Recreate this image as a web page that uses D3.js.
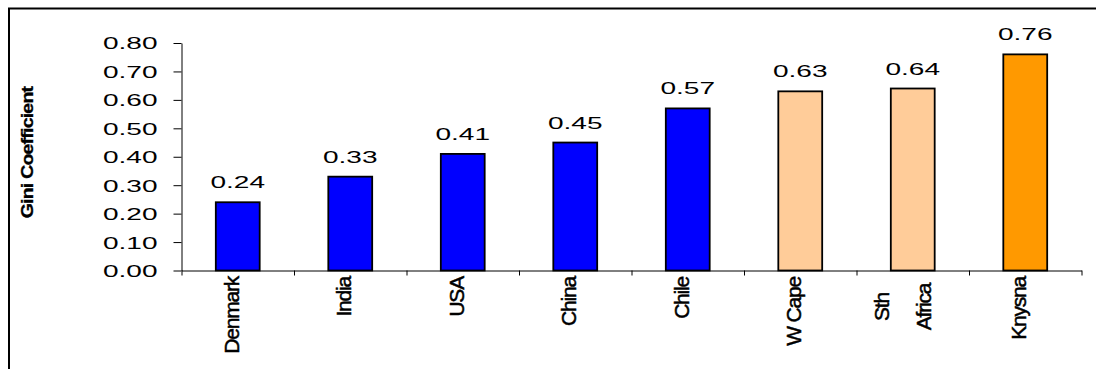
<!DOCTYPE html>
<html>
<head>
<meta charset="utf-8">
<script src="https://cdn.jsdelivr.net/npm/d3@7"></script>
<style>
  html, body { margin: 0; padding: 0; background: #fff; }
  svg { display: block; }
  text { font-family: "Liberation Sans", Arial, sans-serif; fill: #000; }
</style>
</head>
<body>
<svg id="chart" width="1096" height="369"></svg>
<script>
// Gini coefficients by country / region
const categories = ["Denmark", "India", "USA", "China", "Chile", "W Cape", "Sth Africa", "Knysna"];
const categoryLines = [["Denmark"], ["India"], ["USA"], ["China"], ["Chile"], ["W Cape"], ["Sth", "Africa"], ["Knysna"]];
const giniValues = [0.24, 0.33, 0.41, 0.45, 0.57, 0.63, 0.64, 0.76];
const groups = ["world", "world", "world", "world", "world", "region", "region", "local"];
const yTicks = [0, 0.1, 0.2, 0.3, 0.4, 0.5, 0.6, 0.7, 0.8];
const yTitle = "Gini Coefficient";

const groupColor = { world: "#0000FF", region: "#FFCC99", local: "#FF9900" };

const svg = d3.select("#chart");

// Chart frame
svg.append("rect")
  .attr("x", 9).attr("y", 8.5)
  .attr("width", 1200).attr("height", 400)
  .attr("fill", "none").attr("stroke", "#000").attr("stroke-width", 2);

const plot = { left: 181.5, right: 1081.5, top: 43, bottom: 270.5 };

const x = d3.scaleBand()
  .domain(categories)
  .range([plot.left, plot.right])
  .paddingInner(0.61)
  .paddingOuter(0.305);

const xEdge = d3.scaleLinear()
  .domain([0, categories.length])
  .range([plot.left, plot.right]);

const y = d3.scaleLinear()
  .domain([0, 0.8])
  .range([plot.bottom, plot.top]);

const numSX = 1.7;   // wide numeric glyphs
const fmt = d3.format(".2f");

// Y axis
const yAxis = svg.append("g")
  .attr("transform", `translate(${plot.left},0)`)
  .call(d3.axisLeft(y).tickValues(yTicks).tickSize(8).tickSizeOuter(0).tickFormat(fmt));
yAxis.select(".domain").attr("stroke", "#000");
yAxis.selectAll(".tick line").attr("stroke", "#000");
yAxis.selectAll(".tick text")
  .attr("font-family", "Liberation Sans, Arial, sans-serif")
  .attr("font-size", 16.5)
  .attr("fill", "#000")
  .attr("x", -24 / numSX)
  .attr("dy", "0.36em")
  .attr("transform", `scale(${numSX},1)`);

// X axis (ticks between categories)
const xAxis = svg.append("g")
  .attr("transform", `translate(0,${plot.bottom})`)
  .call(d3.axisBottom(xEdge).tickValues(d3.range(categories.length + 1)).tickSize(5).tickSizeOuter(0).tickFormat(""));
xAxis.select(".domain").attr("stroke", "#000");
xAxis.selectAll(".tick line").attr("stroke", "#000");

// Bars
svg.append("g").selectAll("rect")
  .data(categories)
  .join("rect")
  .attr("x", d => x(d))
  .attr("width", x.bandwidth())
  .attr("y", (d, i) => y(giniValues[i]))
  .attr("height", (d, i) => y(0) - y(giniValues[i]))
  .attr("fill", (d, i) => groupColor[groups[i]])
  .attr("stroke", "#000")
  .attr("stroke-width", 1.8);

// Value labels
svg.append("g").selectAll("text")
  .data(categories)
  .join("text")
  .attr("transform", (d, i) => `translate(${x(d) + x.bandwidth() / 2},${y(giniValues[i]) - 14}) scale(${numSX},1)`)
  .attr("text-anchor", "middle")
  .attr("font-size", 16.5)
  .text((d, i) => fmt(giniValues[i]));

// Category labels, rotated
const catG = svg.append("g");
categories.forEach((c, i) => {
  const lines = categoryLines[i];
  const cx = x(c) + x.bandwidth() / 2;
  const t = catG.append("text")
    .attr("font-size", 21)
    .attr("letter-spacing", -1.2)
    .attr("stroke", "#000")
    .attr("stroke-width", 0.5);
  if (lines.length === 1) {
    t.attr("transform", `translate(${cx + 1},277) rotate(-90)`)
      .attr("text-anchor", "end")
      .text(lines[0]);
  } else {
    t.attr("transform", `translate(${cx - 24},307) rotate(-90)`)
      .attr("text-anchor", "middle");
    lines.forEach((ln, k) => {
      t.append("tspan").attr("x", 0).attr("dy", k === 0 ? 0 : 42).text(ln);
    });
  }
});

// Y axis title
svg.append("text")
  .attr("transform", "translate(33,152.5) rotate(-90) scale(1.3,1.05)")
  .attr("text-anchor", "middle")
  .attr("font-size", 15)
  .attr("font-weight", "bold")
  .attr("letter-spacing", -0.6)
  .attr("stroke", "#000")
  .attr("stroke-width", 0.3)
  .text(yTitle);
</script>
</body>
</html>
